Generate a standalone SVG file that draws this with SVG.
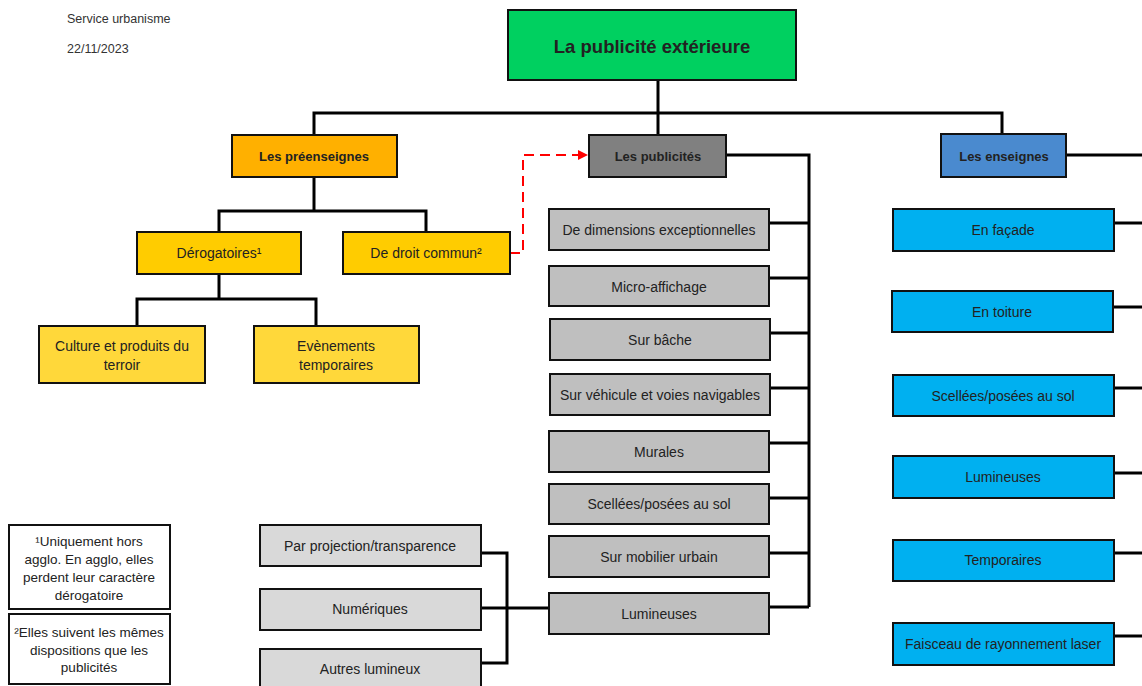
<svg xmlns="http://www.w3.org/2000/svg" width="1142" height="686" viewBox="0 0 1142 686">
<defs>
<style>
text{font-family:"Liberation Sans",Arial,sans-serif;fill:#222;text-anchor:middle;dominant-baseline:central}
.hdr{font-size:12.5px;text-anchor:start;fill:#333}
.box{stroke:#111;stroke-width:2}
.t{font-size:14px}
.b{font-weight:bold;font-size:13px}
.title{font-weight:bold;font-size:18.5px}
.note{font-size:13.5px}
.c{fill:none;stroke:#000;stroke-width:3}
.green{fill:#00D060}
.orange{fill:#FFB000}
.yel{fill:#FFCC00}
.lyel{fill:#FFD83A}
.dgray{fill:#808080}
.gray{fill:#BFBFBF}
.lgray{fill:#D9D9D9}
.blue{fill:#4A8ACF}
.cyan{fill:#00B0F0}
.white{fill:#fff}
</style>
<marker id="arr" markerWidth="10" markerHeight="10" refX="9" refY="5" orient="auto" markerUnits="userSpaceOnUse">
<path d="M0,0 L10,5 L0,10 Z" fill="#FF0000"/>
</marker>
</defs>
<rect width="1142" height="686" fill="#fff"/>
<text class="hdr" x="67" y="19">Service urbanisme</text>
<text class="hdr" x="67" y="49">22/11/2023</text>

<g id="connectors">
<path class="c" d="M658,80 V135"/>
<path class="c" d="M314,135 V113 H1002 V134"/>
<path class="c" d="M314,177 V211"/>
<path class="c" d="M219,232 V211 H426 V232"/>
<path class="c" d="M219,274 V299"/>
<path class="c" d="M137,326 V299 H316 V326"/>
<path class="c" d="M726,155 H809 V607"/>
<path class="c" d="M769,223 H809"/>
<path class="c" d="M769,278 H809"/>
<path class="c" d="M770,333 H809"/>
<path class="c" d="M770,388 H809"/>
<path class="c" d="M769,443 H809"/>
<path class="c" d="M769,498 H809"/>
<path class="c" d="M769,553 H809"/>
<path class="c" d="M769,607 H809"/>
<path class="c" d="M549,608 H507"/>
<path class="c" d="M481,553 H507 V663 H481"/>
<path class="c" d="M481,608 H507"/>
<path class="c" d="M1066,155 H1142"/>
<path class="c" d="M1114,223 H1142"/>
<path class="c" d="M1113,307 H1142"/>
<path class="c" d="M1114,388 H1142"/>
<path class="c" d="M1114,473 H1142"/>
<path class="c" d="M1114,553 H1142"/>
<path class="c" d="M1114,636 H1142"/>
<path d="M510,253 H523 V155 H587" fill="none" stroke="#FF0000" stroke-width="2" stroke-dasharray="10,6" marker-end="url(#arr)"/>
</g>

<g id="n-title"><rect class="box green" x="508" y="10" width="288" height="70"/><text class="title" x="652" y="46">La publicité extérieure</text></g>

<g id="n-preenseignes"><rect class="box orange" x="232" y="135" width="165" height="42"/><text class="b" x="314" y="156">Les préenseignes</text></g>
<g id="n-publicites"><rect class="box dgray" x="589" y="135" width="137" height="42"/><text class="b" x="658" y="156">Les publicités</text></g>
<g id="n-enseignes"><rect class="box blue" x="941" y="134" width="125" height="43"/><text class="b" x="1004" y="156">Les enseignes</text></g>

<g id="n-derog"><rect class="box yel" x="137" y="232" width="164" height="42"/><text class="t" x="219" y="253">Dérogatoires¹</text></g>
<g id="n-droit"><rect class="box yel" x="343" y="232" width="167" height="42"/><text class="t" x="426" y="253">De droit commun²</text></g>
<g id="n-culture"><rect class="box lyel" x="39" y="326" width="166" height="57"/><text class="t" x="122" y="346">Culture et produits du</text><text class="t" x="122" y="365">terroir</text></g>
<g id="n-evenements"><rect class="box lyel" x="254" y="326" width="165" height="57"/><text class="t" x="336" y="346">Evènements</text><text class="t" x="336" y="365">temporaires</text></g>

<g id="n-dim"><rect class="box gray" x="549" y="209" width="220" height="41"/><text class="t" x="659" y="230">De dimensions exceptionnelles</text></g>
<g id="n-micro"><rect class="box gray" x="549" y="266" width="220" height="40"/><text class="t" x="659" y="287">Micro-affichage</text></g>
<g id="n-bache"><rect class="box gray" x="550" y="319" width="220" height="41"/><text class="t" x="660" y="340">Sur bâche</text></g>
<g id="n-vehicule"><rect class="box gray" x="550" y="374" width="220" height="41"/><text class="t" x="660" y="395">Sur véhicule et voies navigables</text></g>
<g id="n-murales"><rect class="box gray" x="549" y="431" width="220" height="41"/><text class="t" x="659" y="452">Murales</text></g>
<g id="n-scellees"><rect class="box gray" x="549" y="484" width="220" height="40"/><text class="t" x="659" y="504">Scellées/posées au sol</text></g>
<g id="n-mobilier"><rect class="box gray" x="549" y="536" width="220" height="41"/><text class="t" x="659" y="557">Sur mobilier urbain</text></g>
<g id="n-lumineuses"><rect class="box gray" x="549" y="593" width="220" height="41"/><text class="t" x="659" y="614">Lumineuses</text></g>

<g id="n-projection"><rect class="box lgray" x="260" y="525" width="221" height="41"/><text class="t" x="370" y="546">Par projection/transparence</text></g>
<g id="n-numeriques"><rect class="box lgray" x="260" y="589" width="221" height="41"/><text class="t" x="370" y="609">Numériques</text></g>
<g id="n-autres"><rect class="box lgray" x="260" y="649" width="221" height="42"/><text class="t" x="370" y="669">Autres lumineux</text></g>

<g id="n-facade"><rect class="box cyan" x="893" y="209" width="221" height="42"/><text class="t" x="1003" y="230">En façade</text></g>
<g id="n-toiture"><rect class="box cyan" x="892" y="291" width="221" height="41"/><text class="t" x="1002" y="312">En toiture</text></g>
<g id="n-e-scellees"><rect class="box cyan" x="893" y="375" width="221" height="41"/><text class="t" x="1003" y="396">Scellées/posées au sol</text></g>
<g id="n-e-lumineuses"><rect class="box cyan" x="893" y="456" width="221" height="42"/><text class="t" x="1003" y="477">Lumineuses</text></g>
<g id="n-temporaires"><rect class="box cyan" x="893" y="540" width="221" height="41"/><text class="t" x="1003" y="560">Temporaires</text></g>
<g id="n-laser"><rect class="box cyan" x="893" y="623" width="221" height="42"/><text class="t" x="1003" y="644">Faisceau de rayonnement laser</text></g>

<g id="n-note1"><rect class="box white" x="9" y="525" width="161" height="84"/><text class="note" x="89" y="541">¹Uniquement hors</text><text class="note" x="89" y="559">agglo. En agglo, elles</text><text class="note" x="89" y="577">perdent leur caractère</text><text class="note" x="89" y="595">dérogatoire</text></g>
<g id="n-note2"><rect class="box white" x="9" y="614" width="161" height="70"/><text class="note" x="89" y="632">²Elles suivent les mêmes</text><text class="note" x="89" y="650">dispositions que les</text><text class="note" x="89" y="667">publicités</text></g>
</svg>
